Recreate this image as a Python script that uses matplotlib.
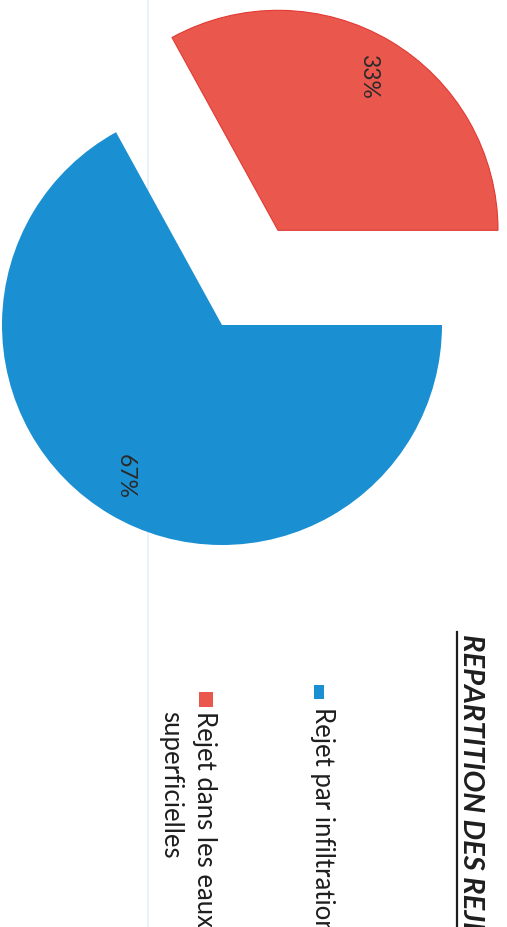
import matplotlib
matplotlib.use("Agg")
import matplotlib.pyplot as plt
from matplotlib.patches import Rectangle
import numpy as np

# data
categories = ["Rejet dans les eaux\nsuperficielles", "Rejet par infiltration"]
values = [33, 67]
colors = ["#E9574D", "#1A8FD2"]
title = "REPARTITION DES REJETS"

W, H = 507, 927
fig = plt.figure(figsize=(W / 100, H / 100), dpi=100)
ax = fig.add_axes([0, 0, 1, 1])


def Y(y):
    return H - y


R = 220
wedges, texts, autotexts = ax.pie(
    values, colors=colors, startangle=0, counterclock=True,
    explode=[0.5 * R, 0], center=(222, Y(325)), radius=R,
    autopct="%1.0f%%", pctdistance=0.82,
    wedgeprops=dict(linewidth=0),
    textprops=dict(rotation=270, fontsize=16.5, color="#2a2a2a", family="Lato"),
    frame=True,
)
wedges[0].set_edgecolor("#E23A33")
wedges[0].set_linewidth(0.8)
ax.set_xlim(0, W)
ax.set_ylim(0, H)
ax.set_aspect("equal")
ax.axis("off")

# fine placement of percentage labels
label_dist = [0.81, 0.82]
label_shift = [0.0, -2.0]
for w, t, d, s in zip(wedges, autotexts, label_dist, label_shift):
    ang = np.deg2rad((w.theta1 + w.theta2) / 2 + s)
    cx, cy = w.center
    t.set_position((cx + d * R * np.cos(ang), cy + d * R * np.sin(ang)))
    t.set_ha("center")
    t.set_va("center")

# faint scan border line
ax.plot([148, 148], [0, H], color="#e2f2f7", lw=1.2, zorder=0)

# title
ax.text(463, Y(634), title, rotation=270, rotation_mode="anchor",
        ha="left", va="baseline", fontsize=21, fontweight="bold",
        fontstyle="italic", color="#1e1e1e", family="Lato")
ax.plot([457, 457], [Y(632), 0], color="#1e1e1e", lw=1.6)

# legend (manual, rotated)
leg_items = [
    (categories[1], colors[1], [315], (314, 685, 10, 14), 707),
    (categories[0], colors[0], [197, 163], (199, 692, 14, 15), 711),
]
for lab, col, baselines, (sx, sy, sw, sh), ystart in leg_items:
    ax.add_patch(Rectangle((sx, Y(sy + sh)), sw, sh, color=col, lw=0))
    for line, xb in zip(lab.split("\n"), baselines):
        ax.text(xb, Y(ystart), line, rotation=270, rotation_mode="anchor",
                ha="left", va="baseline", fontsize=18.5, color="#1e1e1e",
                family="Lato")

fig.savefig("out.png", dpi=100)
